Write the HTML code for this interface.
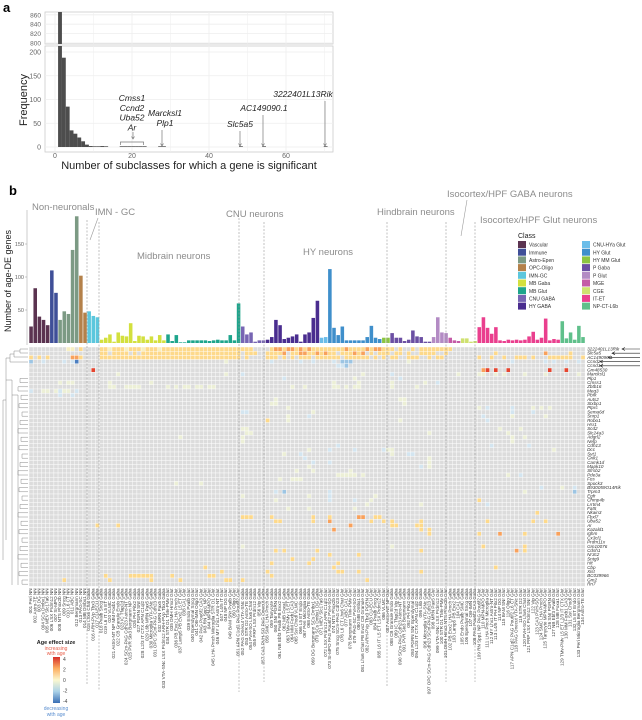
<!DOCTYPE html>
<html><head><meta charset="utf-8">
<style>
body{margin:0;background:#fff;}
svg{display:block;font-family:"Liberation Sans",sans-serif;}
</style></head>
<body>
<svg id="fig" width="642" height="720" viewBox="0 0 642 720" xmlns="http://www.w3.org/2000/svg">
<text x="3" y="12" font-size="13" font-weight="bold">a</text>
<text x="9" y="195" font-size="13" font-weight="bold">b</text>
<g id="pa"></g>
<g id="pb"></g>
</svg>
<script>
// ===== Panel a data =====
const histBins=[1,2,3,4,5,6,7,8,9,10,11,12,13,17,18,19,20,21,22,23,27,28,48,54,70];
const histCounts=[870,188,85,35,28,20,12,5,2,1,1,2,1,1,1,1,1,1,1,1,1,1,1,1,1];
const xTicksA=[0,20,40,60];
const yTicksLow=[0,50,100,150,200];
const yTicksHigh=[800,820,840,860];

// ===== Panel b data =====
const groupNames=["Vascular","Immune","Astro-Epen","OPC-Oligo","IMN-GC","MB Gaba","MB Glut","CNU GABA","HY GABA","CNU-HYa Glut","HY Glut","HY MM Glut","P Gaba","P Glut","MGE","CGE","IT-ET","NP-CT-L6b"];
const groupColors=["#5b3350","#3f4f98","#7c9a84","#b4814a","#5cc7dd","#d3e03e","#1ea58c","#7765b3","#4a2d8f","#6bbde9","#3f8fcb","#8cc541","#6b4fa3","#b38bc4","#c45aa7","#cfe170","#ea3f8e","#60c08b"];
const groupCounts=[5,2,5,2,3,16,18,6,13,2,13,2,10,4,3,4,20,6];
const degCounts=[25,83,40,35,27, 110,76, 35,48,44,141,192, 102,46, 48,41,39,
 5,8,13,2,16,11,10,30,3,11,10,5,10,4,12,4,
 13,3,12,1,1,4,4,4,4,4,3,4,5,4,4,12,4,60,
 25,13,16,2,4,4,
 5,9,35,27,6,8,10,13,2,13,16,38,64,
 8,9,
 112,23,12,25,4,4,4,4,4,9,26,8,6,
 8,8,
 15,8,8,3,5,19,10,9,2,2,
 9,39,16,15,
 8,4,3,
 7,7,2,3,
 24,39,23,14,24,4,3,5,4,5,4,5,10,17,5,8,37,4,6,5,
 33,7,16,5,26,9];
const yTicksB=[50,100,150];
const genes=["3222401L13Rik","Slc5a5","AC149090.1","Ccnd2","Ccnd1","Gm48530","Marcksl1","Plp1","Cmss1","Zbtb16","Meg3","Pbrk","Auts2","Stxbp1","Ptprc","Sema6d","Snrp1","Robo1","Hsr1","Scd2","Slc24a3","Adgrl2","Nefp","Cdh13","Dcc","Syt1","Grik1","Camk1d","Mapk10","Sfrsb2","Pde3a","Fos","Spock3","B930059O14Rik","Trpm3","Egfr","Chmp4b","Lrrtm4","Fat5","Nkain3","Fbxl7","Uba52","Ar","Kazald1","Ighm","Cx3cl1","Prdm11x","Gm10076","Cdsh1","Nr3c2","Sntg9","Hit","Cbp","Xist","BC039966","Gm2","Rn7"];
// . = 0, w ~0.3, a ~0.8, b ~1.5, c ~2.5, d ~4, x ~-0.8, y ~-1.8, z ~-3.5
const heatRows=[
"|..|..aa.|b.|...|bbabbbabbbabbbab|bbbbbbbbbbbbbbbbbb|bbb...|.bccbccbcbcbb|bb|bbbbcbbbbcbcc|bb|b.b..b.bbb|bbbb|b..|..|....................|......",
"|..|.....|..|...|bb.bbbb.b.bbbbbb|bbbbbbbbbbbbbbbbbb|.bbb..|bbbbc.bbccbbc|bc|bb.bbbcbc.b.b|bb|.bb.b..bbb|b..b|...|..|....b...........c...|..b...",
"b.b.b|..|...cc|b.|...|bbbbbbbbbbbbbbbb|bbbbbbbbbbbbbbbbbb|.b....|bbb.b.b.bbb.b|bb|bbb.bbbbbb.b.|b.|bb..bbb..b|.bb.|...|..|b..b..b..bbb.b...bbb.|bbb..b",
"y..x.|..|.x.xz|..|...|................|..............w...|......|.x......x..x.|..|.x.yyy.......|..|....w.....|....|...|..|........x.......x.x..|.x..x.",
"|..|.....|..|...|................|..................|......|..............|..|..xxy.........|..|..........|....|...|..|.....................|......",
"|..|.....|..|.d.|................|..................|......|.............|..|.............|..|..........|....|...|..|.cd.d..d.........d...|.d....",
"|..|.....|..|...|....w...........|..............w...|x.....|.............|..|........w....|..|x.........|....|..w|..|ww..w.w....w....w...|....w.",
"|..|.....|..|...|................|..................|......|....x.........|..|......w......|..|..x.......|....|...|..|.......................|......",
"|..|w.ww.|..|...|..w.........w...|..................|......|..............|..|.w.....w......|..|w.......w.|.x..|...|..|......................|......",
"|..|.....|..|...|..ww..wwww......|w.w.ww.ww.ww......|......|......w..w....|..|.ww.w.ww.....|..|w.....w...|....|...|..|......................|......",
"x..ww|.w|xww.x|..|...|................|..................|......|..............|..|.............|..|..........|....|...|..|......................|......",
"|..|x..x.|..|...|................|..................|......|...............|..|.............|..|..........|....|...|..|......................|......",
"|..|.....|..|...|................|..................|......|..w...........|..|.............|..|..ww......|....|...|..|......................|......",
"|..|.....|..|...|................|..................|......|.ww...........|..|.............|..|...w......|....|...|..|......................|......",
"|..|.....|..|...|................|..................|......|.....w........|..|.............|..|..........|....|...|..|w.x.....x....w.w.w...|......",
"|..|.....|..|...|................|..................|xx....|...........w..|..|.............|..|..........|....|...|..|........x....x.....|......",
"|..|.....|..|...|................|..................|......|.....w....x...|..|.............|..|..........|....|...|..|.x......w.......w...|......",
"|..|.....|..|...|................|..................|......|b....w.....|..|.............y|..|..w.......|....|...|..|..x...................|......",
"|..|.....|..|...|................|..................|......|.............|..|.............d|..|..........|....|...|..|......................|......",
"|..|.....|..|...|................|..................|ww....|.............|..|.............|..|..........|....|...|..|.....w....w.........|......",
"|..|.....|..|...|................|..................|.ww...|..............|..|.............|..|.........w|....|...|..|.......w...........|......",
"|..|.....|..|...|................|...w..............|w.....|..............|..|.............|..|..........|....|...|..|........w..w.......|......",
"|..|.....|..|...|................|..................|w.....|..............|..|.............|..|..........|....|...|..|........w...........|......",
"|..|.....|..|...|................|..................|......|.............|..|..x...........|..|..........|....|...|..|...x........x.........|......",
"|..|.....|..|...|................|..................|......|..........w.|..|x.....x......|xw|w.........|....|...|..|..................w...|......",
"|..|.....|..|...|................|..................|......|....w...x......|..|.............|..|w...xx....|....|...|..|......................|......",
"|..|.....|..|...|................|..................|......|.........x..|..|.............|..|.........w|....|...|..|......................|......",
"|..|.....|..|...|................|..................|......|...........x..|..|x.............|..|.........w|....|...|..|......................|......",
"|..|.....|..|...|................|..................|......|..........w...|..|.............|..|.......x.w|....|...|..|......................|......",
"|..|.....|..|...|................|..................|......|.......w...w..|..|.....w.......|..|..........|....|...|..|......................|......",
"|..|.....|..|...|................|..................|......|..............|..|..wwwww.w....|..|..........|....|...|..|.......w..x.........|......",
"|..|.....|..|...|................|..................|......|...w..www......|..|.............|..|..........|....|...|..|......................|......",
"|..|.....|..|...|................|..w.....w.........|......|..............|..|.............|..|..........|....|...|..|......................|......",
"|..|.....|..|...|................|..................|......|..............|..|.............|..|..........|....|...|..|...............x.....|w..x..",
"|..|.....|..|...|................|..................|......|..x.y.........|..|x............|..|..........|....|...|..|...........w........|...y..",
"|..|.....|..|...|................|..................|w.....|..........w...|..|x..........w..|..|..........|....|...|..|......................|......",
"|..|.....|..|...|................|..................|......|..w...........|..|x.....x...w....|..|..........|....|...|..|b.....................|......",
"|..|.....|..|...|................|..................|......|.............|..|.........w...|..|.......w..|....|...|..|..x...................|......",
"|..|.....|..|...|................|..................|......|.....w....w...|..|......w.......|..|..........|....|...|..|......................|......",
"|..|.....|..|...|................|..................|......|..............|..|.............|..|..........|....|...|..|..............b.......|......",
"|..|.....|..|...|................|..................|bbb...|.b.........b...|..|b......cc..bb|..|..........|....|...|..|..........................|......",
"|..|.....|..|...|................|..................|......|..bb.......b....|..|c.........b..|b.|b......b..|....|...|..|..b..........b..b....|......",
"|..|.....|..|..b|....b...........|..................|......|..............|..|.....c.........|..|bb....bb..|....|...|..|......................|......",
"|..|.....|..|...|................|..................|......|..............|..|.c..........|..|.......b.b|....|...|..|......................|......",
"|..|.....|..|...|................|..................|......|...............|..|.............|..|.........b|....|...|..|b....c.....b.......cb|......",
"|..|.....|..|...|................|..................|......|..............|..|.............|..|..........|....|...|..|......................|......",
"|..|.....|..|...|................|..................|......|..............|..|.............|..|..........|....|...|..|......................|......",
"|..|.....|..|...|................|..................|w.....|..............|..|.............|..|w.........|....|...|..|.b.........b.........|......",
"|..|.....|..|...|................|..................|......|..b.b.......b...|..|...........|..|.......b..|....|...|..|.........c.b.......|......",
"|..|.....|..|...|................|..................|......|..............|..|b......b.......|..|..........|....|...|..|......................|......",
"|..|.....|..|...|................|..................|......|......b....b...|..|..............|..|..........|....|...|..|......................|......",
"|..|.....|..|...|................|..................|......|.b........b....|..|..b...........|..|..........|....|...|..|.....................|......",
"|..|.....|..|...|................|.........b........|......|..............|..|.b...........|..|..........|....|...|..|....b.................|......",
"|..|.....|..|...|................|.............b...|......|b..............|..|..bb...b......b|..|.......b..|....|...|..|......................|......",
"|..|.....|..|...|.b.....bbbbbb...|.b........bb......|......|.b............|..|..............|..|..........|....|...|..|......................|......",
"|..|.b...|..|...|..b.........b...|...b..........bb..|b.....|..............|..|.........b.......|..|..........|....|...|..|......................|......",
"|..|.....|..|...|................|..................|......|..............|..|.............|..|..........|....|...|..|......................|......"
];
const heatColors={".":"#dcdcdc","w":"#ecefd6","a":"#f7efc2","b":"#fdd98b","c":"#f8a15c","d":"#e5452f","x":"#d3e5f0","y":"#9dc5e3","z":"#4b7ec0"};
const cbTicks=[4,2,0,-2,-4];
const groupTitles=["Non-neuronals","IMN - GC","Midbrain neurons","CNU neurons","HY neurons","Hindbrain neurons","Isocortex/HPF GABA neurons","Isocortex/HPF Glut neurons"];

const NS="http://www.w3.org/2000/svg";
function mk(tag,attrs,parent,txt){const e=document.createElementNS(NS,tag);for(const k in attrs)e.setAttribute(k,attrs[k]);if(txt!==undefined)e.textContent=txt;parent.appendChild(e);return e;}

// ===== Panel a =====
const pa=document.getElementById('pa');
const ax=v=>55+v*3.85;
const ayL=v=>147-v*0.475;
const ayH=v=>43-(v-800)*0.47;
const frTop=mk('rect',{x:45,y:12,width:288,height:32,fill:'#fff',stroke:'#ccc','stroke-width':0.8},pa);

const frBot=mk('rect',{x:45,y:46,width:288,height:106,fill:'#fff',stroke:'#ccc','stroke-width':0.8},pa);

for(let v=0;v<=70;v+=10){
  const g1=mk('line',{x1:ax(v),x2:ax(v),y1:12,y2:44,stroke:'#eee','stroke-width':v%20?0.5:0.8},pa);
  
  const g2=mk('line',{x1:ax(v),x2:ax(v),y1:46,y2:152,stroke:'#eee','stroke-width':v%20?0.5:0.8},pa);
  
}
yTicksLow.forEach(t=>{
  const l=mk('line',{x1:45,x2:333,y1:ayL(t),y2:ayL(t),stroke:'#eee','stroke-width':0.8},pa);
  
  const tx=mk('text',{x:41,y:ayL(t)+2.5,'font-size':7,fill:'#666','text-anchor':'end'},pa,t);
  
});
yTicksHigh.forEach(t=>{
  const l=mk('line',{x1:45,x2:333,y1:ayH(t),y2:ayH(t),stroke:'#eee','stroke-width':0.8},pa);
  
  const tx=mk('text',{x:41,y:ayH(t)+2.5,'font-size':6.5,fill:'#666','text-anchor':'end'},pa,t);
  
});
xTicksA.forEach(t=>{
  const tx=mk('text',{x:ax(t),y:158,'font-size':7,fill:'#666','text-anchor':'middle'},pa,t);
  
});
histBins.forEach((b,i)=>{
  const c=histCounts[i];
  const x0=ax(b-0.2),w=3.85;
  if(c>=800){
    const r1=mk('rect',{x:x0,y:12,width:w,height:ayH(800)-12+1,fill:'#4d4d4d'},pa);
    
    const r2=mk('rect',{x:x0,y:46,width:w,height:ayL(0)-46,fill:'#4d4d4d'},pa);
    
  } else {
    const h=Math.max(0.7,c*0.475);
    const r=mk('rect',{x:x0,y:ayL(0)-h,width:w,height:h,fill:'#4d4d4d'},pa);
    
  }
});
const yt=mk('text',{x:0,y:0,'font-size':11,fill:'#222','text-anchor':'middle',transform:'translate(27,100) rotate(-90)'},pa,'Frequency');

const xt=mk('text',{x:189,y:169,'font-size':11,fill:'#222','text-anchor':'middle'},pa,'Number of subclasses for which a gene is significant');

function ann(lines,cx,y0,dy,name){lines.forEach((s,i)=>{const t=mk('text',{x:cx,y:y0+i*dy,'font-size':8.5,'font-style':'italic',fill:'#222','text-anchor':'middle'},pa,s);});}
function arrow(x,y1,y2){const l=mk('line',{x1:x,x2:x,y1:y1,y2:y2,stroke:'#777','stroke-width':0.7},pa);const p=mk('path',{d:`M${x-1.5},${y2-2.5}L${x},${y2}L${x+1.5},${y2-2.5}`,fill:'none',stroke:'#777','stroke-width':0.7},pa);}
ann(['Cmss1','Ccnd2','Uba52','Ar'],132,101,9.8,'gene-annotation');
arrow(133,132,139);
const br=mk('path',{d:`M${ax(17)},145 L${ax(17)},142 L${ax(23)},142 L${ax(23)},145`,fill:'none',stroke:'#777','stroke-width':0.7},pa);

ann(['Marcksl1','Plp1'],165,116,10,'gene-annotation');arrow(162,130,146);
ann(['Slc5a5'],240,127,10,'gene-annotation');arrow(240,131,146);
ann(['AC149090.1'],264,111,10,'gene-annotation');arrow(263,115,146);
ann(['3222401L13Rik'],303,97,10,'gene-annotation');arrow(325,101,146);

// ===== Panel b =====
const pb=document.getElementById('pb');
const X0=29,CW=4.15,HY0=347,RH=4.2,BASE=343,BS=0.66;
const colX=i=>X0+i*CW;
const barY=v=>BASE-v*BS;
const nCols=degCounts.length;
let colGroup=[];groupCounts.forEach((n,g)=>{for(let k=0;k<n;k++)colGroup.push(g);});
const yl=mk('text',{x:0,y:0,'font-size':9,fill:'#222','text-anchor':'middle',transform:'translate(11,281) rotate(-90)'},pb,'Number of age-DE genes');

yTicksB.forEach(t=>{
  const tx=mk('text',{x:24,y:barY(t)+2,'font-size':5.5,fill:'#666','text-anchor':'end'},pb,t);
  
  const tk=mk('line',{x1:25,x2:27,y1:barY(t),y2:barY(t),stroke:'#999','stroke-width':0.5},pb);
  
});
const axl=mk('line',{x1:27,x2:27,y1:210,y2:345,stroke:'#999','stroke-width':0.5},pb);

degCounts.forEach((v,i)=>{
  const r=mk('rect',{x:colX(i)+0.3,y:barY(v),width:CW-0.6,height:v*BS,fill:groupColors[colGroup[i]]},pb);
  
});
heatRows.forEach((row,r)=>{
  const segs=row.split('|');let s='';
  groupCounts.forEach((n,g)=>{s+=(segs[g]||'').padEnd(n,'.').slice(0,n);});
  for(let c=0;c<nCols;c++){
    const ch=s[c]||'.';
    const cell=mk('rect',{x:colX(c),y:HY0+r*RH,width:CW,height:RH,fill:heatColors[ch]||'#dcdcdc',stroke:'#fff','stroke-width':0.4},pb);
    
    
  }
});
genes.forEach((gn,r)=>{
  const t=mk('text',{x:colX(nCols)+2,y:HY0+r*RH+3.4,'font-size':4.6,'font-style':'italic',fill:'#333'},pb,gn);
  
});
[0,1,2,3,4].forEach(r=>{
  const y=HY0+r*RH+2;const xe=[622,612,608,600,600][r];
  const l=mk('path',{d:`M640,${y}L${xe},${y}M${xe+3},${y-1.5}L${xe},${y}L${xe+3},${y+1.5}`,fill:'none',stroke:'#222','stroke-width':0.6},pb);
  
});
const suffix={0:" NN",1:" NN",2:" NN",3:" NN",4:" Gaba",5:" Gaba",6:" Glut",7:" Gaba",8:" Gaba",9:" Glut",10:" Glut",11:" Glut",12:" Gaba",13:" Glut",14:" Gaba",15:" Gaba",16:" Glut",17:" Glut"};
const stems=["Peri","VLMC","Endo","SMC","ABC","Microglia","BAM","Astro-TE","Astro-NT","Ependymal","Tanycyte","Bergmann","OPC","Oligo","DG","CB Granule","OB-IMN","SNr","PAG-SC","MRN Pax5","APN C1ql2","SCs Dmbx1","IC Tfap2d","PAG Pou6f2","NB Ebf3","MB Dmbx1","VTA-SNc","PAG Onecut","MEV Slc17a6","SCm-PAG Cdh23","RN Spp1","MB Foxa1","Lhx6 Chat","STR D1","STR D2","LSX Prdm12","PVR Six3","MPN-MPO","TMv-PMv","ARH-PVp Tbx3","DMH Hmx2","PVH-SO","SI-MPO","PH Pitx2","LHA Pmch","MM Foxb1","CU-ECU","PB Evx2","PRP","NTS Phox2b","PGRN","MY Lhx1","Sst Chodl","Pvalb","Lamp5","Vip","Sncg","L2/3 IT CTX","L4/5 IT","L5 ET","L6 IT","CA1","CA3","L6 CT","L6b","NP"];
for(let c=0;c<nCols;c++){
  let nm=String(c+1).padStart(3,'0')+' '+stems[(c*7)%stems.length];
  if(c>=17){
    if(c%3!==1) nm+=' '+stems[(c*3+5)%stems.length];
    if(c%4===0) nm+=' '+stems[(c*5+11)%stems.length];
  }
  nm+=suffix[colGroup[c]];
  const t=mk('text',{x:0,y:0,'font-size':4.6,fill:'#444','text-anchor':'end',transform:`translate(${colX(c)+CW*0.75},${HY0+genes.length*RH+2}) rotate(-90)`},pb,nm);
  
}
[[87,220,684],[99,222,690],[239,218,692],[264,222,682],[387,222,686],[446,222,682],[475,222,682]].forEach(d=>{
  const l=mk('line',{x1:d[0],x2:d[0],y1:d[1],y2:d[2],stroke:'#999','stroke-width':0.6,'stroke-dasharray':'2,1.5'},pb);
  
});
[[32,210],[95,215],[137,259],[226,217],[303,255],[377,215],[447,197],[480,223]].forEach((p,i)=>{
  const t=mk('text',{x:p[0],y:p[1],'font-size':9.5,fill:'#8c8c8c'},pb,groupTitles[i]);
  
});
[[98,218,90,240],[467,200,461,236]].forEach(d=>{
  const l=mk('line',{x1:d[0],y1:d[1],x2:d[2],y2:d[3],stroke:'#999','stroke-width':0.6},pb);
  
});
const lt=mk('text',{x:518,y:238,'font-size':7,fill:'#222'},pb,'Class');

groupNames.forEach((n,i)=>{
  const col=i<9?0:1,row=i<9?i:i-9;
  const x=518+col*64,y=241+row*7.7;
  const s=mk('rect',{x:x,y:y,width:8,height:7,fill:groupColors[i]},pb);
  
  const t=mk('text',{x:x+11,y:y+5.6,'font-size':5,fill:'#333'},pb,n);
  
});
const dg=[[28,349,20,349],[28,353,20,353],[20,349,20,353],[28,357,14,357],[20,351,14,351],[14,351,14,357],[28,362,10,362],[14,354,10,354],[10,354,10,362],[10,358,6,358]];
for(let r=7;r<genes.length;r+=2){dg.push([28,HY0+r*RH+2,22-(r%5),HY0+r*RH+2]);dg.push([22-(r%5),HY0+r*RH+2,22-(r%5),HY0+(r+1)*RH+2]);dg.push([28,HY0+(r+1)*RH+2,22-(r%5),HY0+(r+1)*RH+2]);}
dg.push([6,358,6,540],[6,400,3,400],[3,400,3,560],[12,380,12,585],[12,380,6,380],[18,395,18,585],[18,395,12,395]);
dg.forEach(d=>{const l=mk('line',{x1:d[0],y1:d[1],x2:d[2],y2:d[3],stroke:'#888','stroke-width':0.5},pb);});
const defs=mk('defs',{},pb);
const lg=mk('linearGradient',{id:'cb',x1:0,y1:0,x2:0,y2:1},defs);
[["0","#d7302a"],["0.25","#fdae61"],["0.5","#fbf8d0"],["0.75","#abd2e8"],["1","#3a6fb5"]].forEach(s=>mk('stop',{offset:s[0],'stop-color':s[1]},lg));
const cbt=mk('text',{x:56,y:644,'font-size':5.5,'font-weight':'bold',fill:'#222','text-anchor':'middle'},pb,'Age effect size');

[['increasing',650],['with age',655]].forEach(a=>{const t=mk('text',{x:56,y:a[1],'font-size':5,fill:'#e8604c','text-anchor':'middle'},pb,a[0]);});
const cbr=mk('rect',{x:53,y:657,width:7,height:46,fill:'url(#cb)'},pb);

cbTicks.forEach(t=>{const y=680-t*5.3;const tx=mk('text',{x:63,y:y+2,'font-size':5,fill:'#444'},pb,t);});
[['decreasing',710],['with age',716]].forEach(a=>{const t=mk('text',{x:56,y:a[1],'font-size':5,fill:'#5b8fd0','text-anchor':'middle'},pb,a[0]);});
</script>
</body></html>
